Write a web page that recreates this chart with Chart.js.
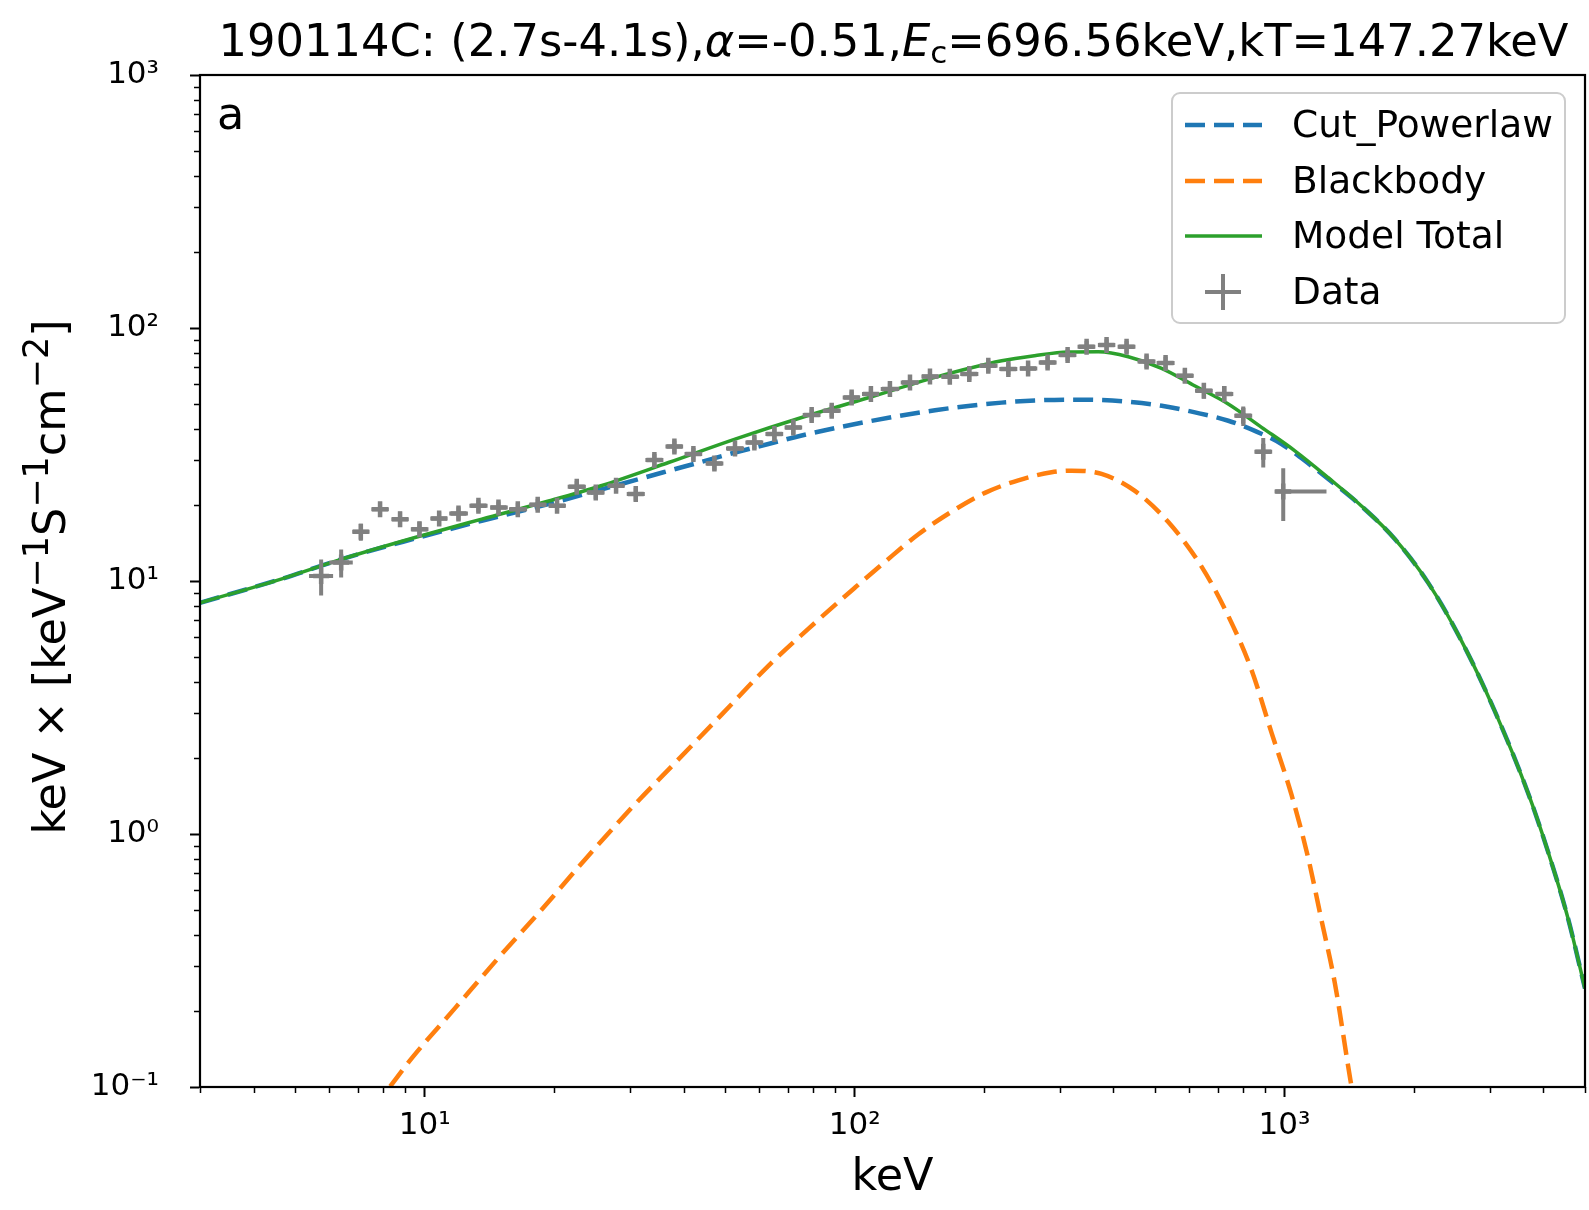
<!DOCTYPE html>
<html>
<head>
<meta charset="utf-8">
<script src="https://cdn.jsdelivr.net/npm/chart.js@4.4.1/dist/chart.umd.min.js"></script>
<style>
  html, body { margin: 0; padding: 0; background: #fff; }
  canvas { display: block; }
</style>
</head>
<body>
<canvas id="spec" width="1589" height="1210"></canvas>
<script>
// axis limits and tick labels
const xMin = 3, xMax = 5000, yMin = 0.1, yMax = 1000;
const xTicks = [10, 100, 1000];
const xTickLabels = ['10¹', '10²', '10³'];
const yTicks = [0.1, 1, 10, 100, 1000];
const yTickLabels = ['10⁻¹', '10⁰', '10¹', '10²', '10³'];

// Cut_Powerlaw component (keV, flux)
const cplE = [3, 4.65, 6.41, 9.49, 13.57, 19.4, 27.7, 35.9, 44.1, 52.7, 63.0, 75.3, 90.0, 107.6, 128.6, 153.8, 183.8, 219.8, 262.6, 314, 375, 433, 518, 619, 740, 853, 984, 1156, 1264, 1510, 1805, 2159, 2580, 3084, 3687, 4105, 4570, 5000];
const cplF = [8.2, 10.2, 12.2, 14.72, 17.3, 20.15, 23.8, 26.9, 29.6, 32.2, 34.8, 37.6, 40.2, 42.7, 45.1, 47.3, 49.2, 50.7, 51.7, 52.1, 51.9, 51.1, 49.3, 46.4, 43.0, 39.2, 34.8, 28.5, 25.3, 19.75, 14.65, 9.83, 5.80, 3.06, 1.45, 0.848, 0.461, 0.245];

// Blackbody component
const bbE = [8.31, 9.33, 11.76, 14.84, 18.71, 23.6, 30.3, 38.2, 49.1, 63.0, 80.9, 100.2, 117.6, 140.7, 168.1, 200.9, 240.3, 287.1, 319.7, 375.3, 448.6, 536.6, 641.2, 739.7, 838, 933, 1038, 1135, 1219, 1309, 1406, 1432];
const bbF = [0.1006, 0.130, 0.205, 0.324, 0.503, 0.793, 1.27, 1.91, 2.97, 4.62, 6.84, 9.42, 11.9, 15.3, 18.8, 22.3, 25.0, 26.9, 27.3, 26.5, 22.7, 17.1, 11.4, 7.28, 4.45, 2.51, 1.43, 0.805, 0.456, 0.258, 0.121, 0.1];

// Model total
const totE = [3, 4.65, 6.41, 9.49, 13.57, 19.4, 25.7, 36.9, 52.7, 75.3, 107.6, 153.8, 219.8, 262.1, 314, 368.7, 433.1, 517.6, 617.7, 739.7, 884.4, 1057, 1264, 1510, 1805, 2159, 2580, 3084, 3687, 4105, 4570, 5000];
const totF = [8.2, 10.2, 12.2, 14.85, 17.56, 20.7, 23.8, 29.4, 36.4, 44.3, 53.0, 63.8, 74.2, 77.7, 80.3, 80.5, 77.0, 69.3, 59.1, 50.1, 40.5, 32.7, 25.6, 19.8, 14.67, 9.83, 5.80, 3.06, 1.45, 0.848, 0.461, 0.245];

// Data points with errors
const dataE = [5.74, 6.39, 7.10, 7.87, 8.76, 9.72, 10.80, 11.98, 13.33, 14.84, 16.46, 18.31, 20.31, 22.57, 24.99, 27.86, 30.96, 34.21, 38.08, 42.16, 47.18, 52.68, 58.44, 65.06, 72.00, 79.43, 88.43, 98.4, 109.1, 120.8, 134.5, 149.7, 166.5, 184.8, 204.6, 227.8, 253.2, 281.1, 312.9, 346.4, 385.5, 429.1, 477.6, 528.8, 586.4, 649.2, 724.1, 801.7, 892.3, 993.1];
const dataF = [10.47, 11.83, 15.64, 19.23, 17.56, 16.03, 17.65, 18.48, 19.82, 19.51, 19.23, 20.0, 19.82, 23.56, 22.37, 23.78, 22.05, 30.05, 34.01, 31.74, 29.13, 33.40, 35.28, 38.08, 40.45, 45.27, 47.08, 53.16, 54.83, 57.37, 60.93, 64.35, 64.18, 65.77, 70.95, 68.84, 69.22, 73.08, 78.20, 84.34, 85.66, 84.34, 73.76, 72.70, 64.77, 56.49, 54.83, 44.98, 32.41, 22.58];
const dataErr = [1.7, 1.5, 1.2, 1.3, 1.2, 1.1, 1.1, 1.1, 1.1, 1.1, 1.1, 1.1, 1.1, 1.3, 1.3, 1.3, 1.3, 1.7, 1.9, 1.8, 1.7, 1.9, 2.0, 2.1, 2.3, 2.5, 2.6, 2.9, 3.0, 3.1, 3.3, 3.5, 3.5, 3.6, 3.8, 3.7, 3.8, 4.0, 4.2, 4.5, 4.6, 4.6, 4.2, 4.3, 4.1, 3.9, 4.0, 4.0, 4.3, 5.3];
const dataELo = [5.38, 6.0, 6.78, 7.51, 8.36, 9.28, 10.3, 11.4, 12.7, 14.2, 15.7, 17.5, 19.4, 21.5, 23.8, 26.6, 29.5, 32.6, 36.3, 40.2, 45.0, 50.2, 55.7, 62.0, 68.7, 75.7, 84.3, 93.8, 104, 115, 128, 143, 159, 176, 195, 217, 242, 268, 298, 330, 368, 409, 455, 504, 559, 619, 690, 764, 851, 948];
const dataEHi = [6.12, 6.8, 7.44, 8.25, 9.18, 10.2, 11.3, 12.6, 14.0, 15.6, 17.3, 19.2, 21.3, 23.7, 26.2, 29.2, 32.5, 35.9, 39.9, 44.2, 49.5, 55.3, 61.3, 68.2, 75.5, 83.3, 92.8, 103, 114, 127, 141, 157, 175, 194, 215, 239, 266, 295, 328, 363, 404, 450, 501, 555, 615, 681, 760, 841, 936, 1252];

const FONT = 'DejaVu Sans';
const cBlue = '#1f77b4', cOrange = '#ff7f0e', cGreen = '#2ca02c', cGray = '#808080';
const DASH = [20, 9];

Chart.defaults.font.family = FONT;
Chart.defaults.color = '#000';

const pts = (xs, ys) => xs.map((x, i) => ({ x: x, y: ys[i] }));

// error bar segments, broken by null points
const errSegs = [];
dataE.forEach((e, i) => {
  errSegs.push({ x: dataELo[i], y: dataF[i] }, { x: dataEHi[i], y: dataF[i] }, { x: e, y: null });
  errSegs.push({ x: e, y: dataF[i] - dataErr[i] }, { x: e, y: dataF[i] + dataErr[i] }, { x: e, y: null });
});

const legendItems = [
  { label: 'Cut_Powerlaw', color: cBlue, dash: DASH, width: 4.5 },
  { label: 'Blackbody', color: cOrange, dash: DASH, width: 4.5 },
  { label: 'Model Total', color: cGreen, dash: [], width: 3.5 },
  { label: 'Data', color: cGray, marker: true }
];

function drawRich(ctx, runs, cx, baseline) {
  let total = 0;
  runs.forEach(r => { ctx.font = r.font; r.w = ctx.measureText(r.t).width; total += r.w; });
  let x = cx - total / 2;
  ctx.textAlign = 'left';
  ctx.textBaseline = 'alphabetic';
  runs.forEach(r => { ctx.font = r.font; ctx.fillText(r.t, x, baseline + (r.dy || 0)); x += r.w; });
}

function roundRect(ctx, x, y, w, h, r) {
  ctx.beginPath();
  ctx.moveTo(x + r, y);
  ctx.arcTo(x + w, y, x + w, y + h, r);
  ctx.arcTo(x + w, y + h, x, y + h, r);
  ctx.arcTo(x, y + h, x, y, r);
  ctx.arcTo(x, y, x + w, y, r);
  ctx.closePath();
}

const decor = {
  id: 'decor',
  afterDraw(chart) {
    const { ctx, chartArea: a, scales: { x, y } } = chart;
    ctx.save();

    // frame
    ctx.strokeStyle = '#000';
    ctx.lineWidth = 2.2;
    ctx.strokeRect(a.left, a.top, a.right - a.left, a.bottom - a.top);

    // minor ticks
    ctx.lineWidth = 1.5;
    ctx.beginPath();
    [1, 10, 100, 1000].forEach(d => {
      for (let m = 2; m <= 9; m++) {
        const v = m * d;
        if (v < xMin || v > xMax) continue;
        const px = Math.round(x.getPixelForValue(v)) + 0.5;
        ctx.moveTo(px, a.bottom); ctx.lineTo(px, a.bottom + 6);
      }
    });
    [0.1, 1, 10, 100].forEach(d => {
      for (let m = 2; m <= 9; m++) {
        const py = Math.round(y.getPixelForValue(m * d)) + 0.5;
        ctx.moveTo(a.left - 6, py); ctx.lineTo(a.left, py);
      }
    });
    ctx.stroke();

    // panel letter
    ctx.fillStyle = '#000';
    ctx.font = '44.5px "DejaVu Sans"';
    ctx.textAlign = 'left';
    ctx.textBaseline = 'alphabetic';
    ctx.fillText('a', 217, 129);

    // title
    const n = '44.8px "DejaVu Sans"', it = 'italic 44.8px "DejaVu Sans"', sub = '31px "DejaVu Sans"';
    drawRich(ctx, [
      { t: '190114C: (2.7s-4.1s),', font: n },
      { t: 'α', font: it },
      { t: '=-0.51,', font: n },
      { t: 'E', font: it },
      { t: 'c', font: sub, dy: 7 },
      { t: '=696.56keV,kT=147.27keV', font: n }
    ], (a.left + a.right) / 2 + 1, 56);

    // y axis label, rotated
    const ln = '44.5px "DejaVu Sans"', sup = '35px "DejaVu Sans"';
    ctx.save();
    ctx.translate(65, (a.top + a.bottom) / 2 - 4);
    ctx.rotate(-Math.PI / 2);
    drawRich(ctx, [
      { t: 'keV × [keV', font: ln },
      { t: '−1', font: sup, dy: -17 },
      { t: 'S', font: ln },
      { t: '−1', font: sup, dy: -17 },
      { t: 'cm', font: ln },
      { t: '−2', font: sup, dy: -17 },
      { t: ']', font: ln }
    ], 0, 0);
    ctx.restore();

    // legend
    const lx = 1172, ly = 93, lw = 393, lh = 230;
    roundRect(ctx, lx, ly, lw, lh, 8);
    ctx.fillStyle = 'rgba(255,255,255,0.8)';
    ctx.fill();
    ctx.strokeStyle = '#cccccc';
    ctx.lineWidth = 2;
    ctx.stroke();
    const rows = [125, 181, 236, 292];
    legendItems.forEach((item, i) => {
      const ry = rows[i];
      ctx.strokeStyle = item.color;
      if (item.marker) {
        ctx.setLineDash([]);
        ctx.lineWidth = 4;
        ctx.beginPath();
        ctx.moveTo(1205, ry); ctx.lineTo(1241, ry);
        ctx.moveTo(1223, ry - 18); ctx.lineTo(1223, ry + 18);
        ctx.stroke();
      } else {
        ctx.setLineDash(item.dash);
        ctx.lineWidth = item.width;
        ctx.beginPath();
        ctx.moveTo(1185, ry); ctx.lineTo(1262, ry);
        ctx.stroke();
      }
      ctx.setLineDash([]);
      ctx.fillStyle = '#000';
      ctx.font = '37.5px "DejaVu Sans"';
      ctx.textBaseline = 'middle';
      ctx.fillText(item.label, 1292, ry + 2);
    });

    ctx.restore();
  }
};

// keep the plot box exactly where the padding puts it
const noSidePad = s => { s.paddingLeft = 0; s.paddingRight = 0; };

new Chart(document.getElementById('spec'), {
  type: 'scatter',
  data: {
    datasets: [
      { label: 'Data', data: pts(dataE, dataF), pointStyle: 'cross', pointRadius: 8, pointBorderWidth: 4.5,
        pointBorderColor: cGray, borderColor: cGray, order: 0 },
      { label: 'Data errors', data: errSegs, showLine: true, borderColor: cGray, borderWidth: 4,
        pointRadius: 0, spanGaps: false, order: 0 },
      { label: 'Model Total', data: pts(totE, totF), showLine: true, borderColor: cGreen, borderWidth: 3.5,
        pointRadius: 0, cubicInterpolationMode: 'monotone', order: 1 },
      { label: 'Cut_Powerlaw', data: pts(cplE, cplF), showLine: true, borderColor: cBlue, borderWidth: 4.5,
        borderDash: DASH, pointRadius: 0, cubicInterpolationMode: 'monotone', order: 2 },
      { label: 'Blackbody', data: pts(bbE, bbF), showLine: true, borderColor: cOrange, borderWidth: 4.5,
        borderDash: DASH, pointRadius: 0, cubicInterpolationMode: 'monotone', order: 3 }
    ]
  },
  options: {
    responsive: false,
    animation: false,
    devicePixelRatio: 1,
    layout: { padding: { top: 75, right: 4, left: 0, bottom: 0 }, autoPadding: false },
    plugins: { legend: { display: false }, tooltip: { enabled: false } },
    scales: {
      x: {
        type: 'logarithmic', min: xMin, max: xMax,
        afterBuildTicks: s => { s.ticks = xTicks.map(v => ({ value: v })); },
        afterFit: s => { s.height = 123; noSidePad(s); },
        grid: { drawOnChartArea: false, tickLength: 10, tickWidth: 2, tickColor: '#000' },
        border: { color: '#000', width: 2 },
        ticks: { callback: v => { const i = xTicks.indexOf(v); return i < 0 ? '' : xTickLabels[i]; },
                 font: { size: 31 }, padding: 10, maxRotation: 0, autoSkip: false, color: '#000' },
        title: { display: true, text: 'keV', font: { size: 44.5 }, padding: { top: 0, bottom: 5 }, color: '#000' }
      },
      y: {
        type: 'logarithmic', min: yMin, max: yMax,
        afterBuildTicks: s => { s.ticks = yTicks.map(v => ({ value: v })); },
        afterFit: s => { s.width = 200; noSidePad(s); },
        grid: { drawOnChartArea: false, tickLength: 10, tickWidth: 2, tickColor: '#000' },
        border: { color: '#000', width: 2 },
        ticks: { callback: v => { const i = yTicks.indexOf(v); return i < 0 ? '' : yTickLabels[i]; },
                 font: { size: 31 }, padding: 31, autoSkip: false, color: '#000' },
        title: { display: false }
      }
    }
  },
  plugins: [decor]
});
</script>
</body>
</html>
